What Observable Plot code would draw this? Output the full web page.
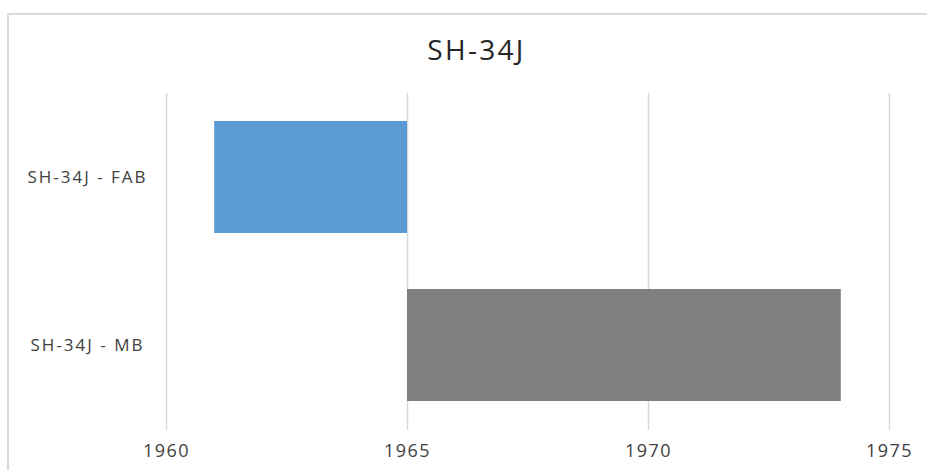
<!DOCTYPE html>
<html>
<head>
<meta charset="utf-8">
<script src="https://cdn.jsdelivr.net/npm/d3@7"></script>
<script src="https://cdn.jsdelivr.net/npm/@observablehq/plot@0.6"></script>
<style>
  html, body { margin: 0; padding: 0; background: #fff; overflow: hidden; }
  #wrap { position: relative; width: 927px; height: 470px; }
  #frame { position: absolute; left: 7px; top: 13px; width: 940px; height: 480px; border: 2px solid #d9d9d9; box-sizing: border-box; }
  #title { position: absolute; left: 13px; width: 927px; top: 30px; text-align: center; font-family: "Open Sans", sans-serif; font-size: 28px; color: #262626; letter-spacing: 2.3px; }
  #chart { position: absolute; left: 0; top: 0; }
</style>
</head>
<body>
<div id="wrap">
  <div id="frame"></div>
  <div id="chart"></div>
  <div id="title">SH-34J</div>
</div>
<script>
const categories = ["SH-34J - FAB", "SH-34J - MB"];
const startYears = [1961, 1965];
const endYears = [1965, 1974];
const barColors = ["#5b9bd5", "#7f7f7f"];
const xTicks = [1960, 1965, 1970, 1975];

const rows = categories.map((c, i) => ({cat: c, start: startYears[i], end: endYears[i], color: barColors[i]}));

const chart = Plot.plot({
  width: 927,
  height: 470,
  marginTop: 93,
  marginBottom: 40,
  marginLeft: 166,
  marginRight: 38,
  style: {fontFamily: "Open Sans, sans-serif", background: "transparent", color: "#595959"},
  x: {domain: [1960, 1975], ticks: xTicks, tickFormat: d => String(d)},
  y: {domain: categories, paddingInner: 0.333, paddingOuter: 0.167},
  marks: [
    Plot.gridX(xTicks, {stroke: "#d9d9d9", strokeOpacity: 1, strokeWidth: 1.5}),
    Plot.barX(rows, {x1: "start", x2: "end", y: "cat", fill: "color"}),
    Plot.axisX({ticks: xTicks, tickSize: 0, tickPadding: 14, fontSize: 18, tickFormat: d => String(d), label: null, fill: "#404040"}),
    Plot.axisY({tickSize: 0, tickPadding: 79, textAnchor: "middle", fontSize: 17, label: null, fill: "#404040"})
  ]
});
d3.select(chart).selectAll('g[aria-label="y-axis tick label"]').attr("letter-spacing", "2px");
d3.select(chart).selectAll('g[aria-label="x-axis tick label"]').attr("letter-spacing", "1.5px");
document.getElementById("chart").appendChild(chart);
</script>
</body>
</html>
